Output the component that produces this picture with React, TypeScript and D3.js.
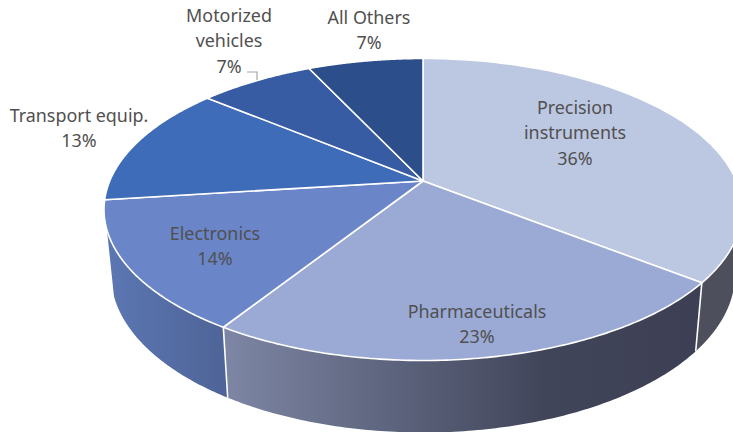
import React from "react";
import * as d3 from "d3";

const categories = ["Precision instruments", "Pharmaceuticals", "Electronics", "Transport equip.", "Motorized vehicles", "All Others"];
const shares = [35.6, 23.4, 14, 13, 7, 7];
const topColors = ["#bcc7e2", "#9baad4", "#6a85c8", "#3e6cb8", "#375ca3", "#2c4f8c"];
const labelLines = [["Precision", "instruments", "36%"], ["Pharmaceuticals", "23%"], ["Electronics", "14%"], ["Transport equip.", "13%"], ["Motorized", "vehicles", "7%"], ["All Others", "7%"]];
const labelPos = [[575, 114], [477, 318], [215, 240], [79, 122], [229, 22], [369, 24]];

const W = 733, H = 432;
const CX = 423, TOP_CY = 209.5, TOP_RX = 319, TOP_RY = 151;
const BOT_CY = 274.5, BOT_RX = 312, BOT_RY = 158;
const K = (TOP_CY - 181) / TOP_RY; // perspective shift of the pie's centre

// angle around the disc -> normalised point on the perspective ellipse
const norm = (t: number): [number, number] => {
  const x = Math.sin(t), y = -Math.cos(t);
  const d = 1 - K * y;
  return [(x * Math.sqrt(1 - K * K)) / d, (y - K) / d];
};
const topP = (t: number): [number, number] => { const [x, y] = norm(t); return [CX + TOP_RX * x, TOP_CY + TOP_RY * y]; };
const botP = (t: number): [number, number] => { const [x, y] = norm(t); return [CX + BOT_RX * x, BOT_CY + BOT_RY * y]; };

const line = d3.line();
const arcs = d3.pie<number>().sort(null)(shares);
const deg = Math.PI / 180;
const samples = (a: number, b: number) => d3.range(0, 121).map((i) => a + ((b - a) * i) / 120);

const wallRanges: [number, number][] = [
  [100 * deg, arcs[0].endAngle],
  [arcs[1].startAngle, arcs[1].endAngle],
  [arcs[2].startAngle, 251.5 * deg],
];
const wallFills = ["#4d505c", "url(#wallPharma)", "url(#wallElec)"];

export default function App() {
  const font = "'Noto Sans', sans-serif";
  return (
    <svg width={W} height={H} viewBox={`0 0 ${W} ${H}`} style={{ position: "fixed", left: 0, top: 0, display: "block", background: "#fff" }}>
      <defs>
        <linearGradient id="wallPharma" gradientUnits="userSpaceOnUse" x1={225} x2={697} y1={0} y2={0}>
          <stop offset="0" stopColor="#7d86a4" />
          <stop offset="0.35" stopColor="#5d647d" />
          <stop offset="0.68" stopColor="#41455a" />
          <stop offset="1" stopColor="#3d4055" />
        </linearGradient>
        <linearGradient id="wallElec" gradientUnits="userSpaceOnUse" x1={110} x2={228} y1={0} y2={0}>
          <stop offset="0" stopColor="#5b76b2" />
          <stop offset="1" stopColor="#4e6497" />
        </linearGradient>
      </defs>
      {wallRanges.map(([a, b], i) => {
        const ts = samples(a, b);
        const pts = [...ts.map(topP), ...ts.slice().reverse().map(botP)];
        return <path key={i} d={line(pts)! + "Z"} fill={wallFills[i]} />;
      })}
      {[arcs[0].endAngle, arcs[1].endAngle].map((t, i) => (
        <path key={i} d={line([topP(t), botP(t)])!} stroke="#fff" strokeWidth={1.6} fill="none" />
      ))}
      {arcs.map((a, i) => {
        const pts: [number, number][] = [[CX, 181], ...samples(a.startAngle, a.endAngle).map(topP)];
        return <path key={categories[i]} d={line(pts)! + "Z"} fill={topColors[i]} stroke="#fff" strokeWidth={1.6} strokeLinejoin="round" />;
      })}
      <path d="M247,72H257V80" fill="none" stroke="#a6a6a6" strokeWidth={1.2} />
      {labelLines.map((lines, i) => (
        <text key={i} textAnchor="middle" fontFamily={font} fontSize={17.9} fill="#505050">
          {lines.map((l, j) => (
            <tspan key={j} x={labelPos[i][0]} y={labelPos[i][1] + j * 25.4}>{l}</tspan>
          ))}
        </text>
      ))}
    </svg>
  );
}
